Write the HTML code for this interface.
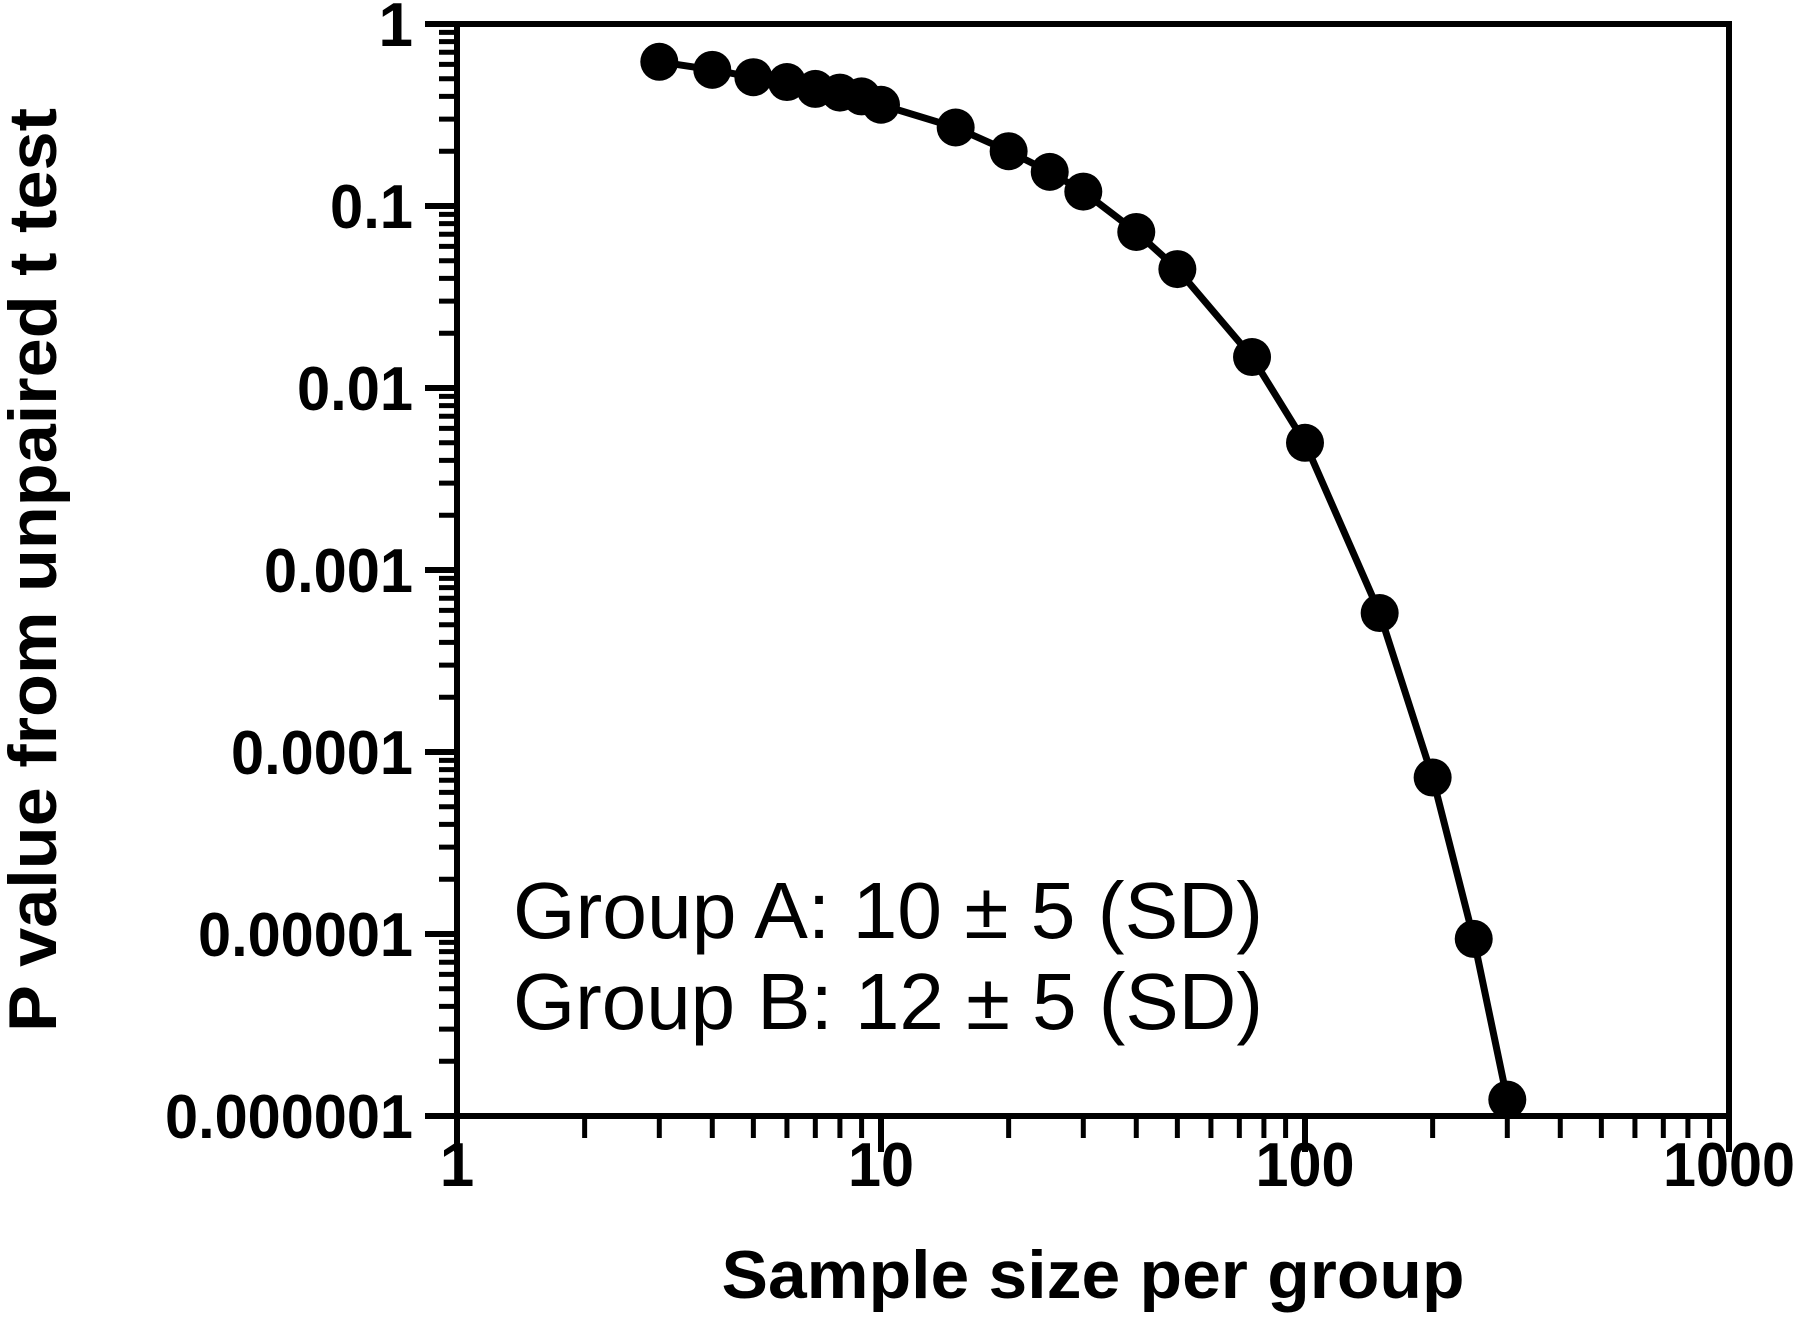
<!DOCTYPE html>
<html><head><meta charset="utf-8"><style>html,body{margin:0;padding:0;background:#fff;}svg{display:block;}</style></head>
<body>
<svg id="chart" width="1800" height="1322" viewBox="0 0 1800 1322" xmlns="http://www.w3.org/2000/svg" font-family="'Liberation Sans', sans-serif">
</svg>
<script>
const sampleSizes = [3,4,5,6,7,8,9,10,15,20,25,30,40,50,75,100,150,200,250,300];
const pValues = [0.62,0.56,0.51,0.48,0.44,0.42,0.40,0.36,0.27,0.20,0.154,0.12,0.072,0.045,0.0148,0.0050,0.00058,0.0000724,0.0000094,0.00000123];
const xTickValues = [1,10,100,1000];
const xTickLabels = ["1","10","100","1000"];
const yTickValues = [1,0.1,0.01,0.001,0.0001,0.00001,0.000001];
const yTickLabels = ["1","0.1","0.01","0.001","0.0001","0.00001","0.000001"];

const L=457,R=1729,T=24,B=1116;
const NS="http://www.w3.org/2000/svg";
const svg=document.getElementById('chart');
function xs(v){return L+(Math.log10(v)-0)/3*(R-L);}
function ys(v){return T+(0-Math.log10(v))/6*(B-T);}
function mk(tag,attrs,parent){const e=document.createElementNS(NS,tag);for(const k in attrs)e.setAttribute(k,attrs[k]);(parent||svg).appendChild(e);return e;}

for(let d=0;d<3;d++){for(let m=2;m<=9;m++){const t=mk('line',{x1:xs(m*Math.pow(10,d)),x2:xs(m*Math.pow(10,d)),y1:B,y2:B+22,stroke:'#000','stroke-width':5});

}}
for(let d=-6;d<0;d++){for(let m=2;m<=9;m++){const t=mk('line',{x1:L-18,x2:L,y1:ys(m*Math.pow(10,d)),y2:ys(m*Math.pow(10,d)),stroke:'#000','stroke-width':5});

}}
xTickValues.forEach((v,i)=>{const t=mk('line',{x1:xs(v),x2:xs(v),y1:B,y2:B+36,stroke:'#000','stroke-width':6});


const tx=mk('text',{x:xs(v),y:1186,'text-anchor':'middle','font-size':62,'font-weight':'bold',fill:'#000'});


if(xTickLabels[i].length>1){tx.setAttribute('textLength',xTickLabels[i].length*33);tx.setAttribute('lengthAdjust','spacingAndGlyphs');}
tx.textContent=xTickLabels[i];});
yTickValues.forEach((v,i)=>{const t=mk('line',{x1:L-32,x2:L,y1:ys(v),y2:ys(v),stroke:'#000','stroke-width':6});


const tx=mk('text',{x:413,y:ys(v)+22,'text-anchor':'end','font-size':62,'font-weight':'bold',fill:'#000'});


const n=yTickLabels[i].length;if(n>1){tx.setAttribute('textLength',n*33-16);tx.setAttribute('lengthAdjust','spacingAndGlyphs');}
tx.textContent=yTickLabels[i];});

const fr=mk('rect',{x:L,y:T,width:R-L,height:B-T,fill:'none',stroke:'#000','stroke-width':6});



const pts=sampleSizes.map((n,i)=>xs(n)+','+ys(pValues[i])).join(' ');
const pl=mk('polyline',{points:pts,fill:'none',stroke:'#000','stroke-width':7,'stroke-linejoin':'round'});


sampleSizes.forEach((n,i)=>{const c=mk('circle',{cx:xs(n),cy:ys(pValues[i]),r:19,fill:'#000'});

});

const xt=mk('text',{x:1093,y:1298,'text-anchor':'middle','font-size':68,'font-weight':'bold',textLength:743,lengthAdjust:'spacingAndGlyphs'});


xt.textContent='Sample size per group';
const yt=mk('text',{x:0,y:0,'text-anchor':'middle','font-size':68,'font-weight':'bold',textLength:924,lengthAdjust:'spacingAndGlyphs',transform:'translate(56,570) rotate(-90)'});


yt.textContent='P value from unpaired t test';
const a1=mk('text',{x:513,y:938,'font-size':80,textLength:750,lengthAdjust:'spacingAndGlyphs'});


a1.textContent='Group A: 10 ± 5 (SD)';
const a2=mk('text',{x:513,y:1029,'font-size':80,textLength:750,lengthAdjust:'spacingAndGlyphs'});


a2.textContent='Group B: 12 ± 5 (SD)';
</script>
</body></html>
